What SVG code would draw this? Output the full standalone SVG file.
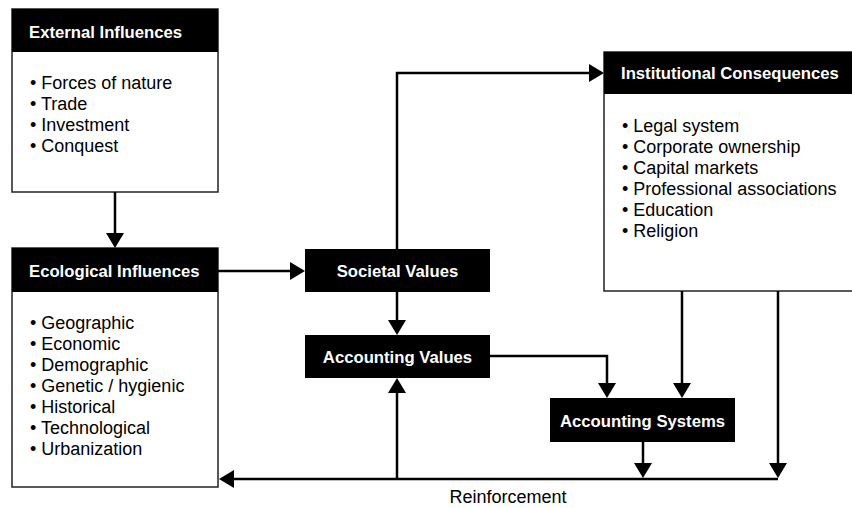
<svg xmlns="http://www.w3.org/2000/svg" width="852" height="508" viewBox="0 0 852 508">
<style>
.body{fill:#fff;stroke:#222;stroke-width:1.5}
.hdr{fill:#000}
.title{font-family:"Liberation Sans",Arial,sans-serif;font-weight:bold;font-size:16.7px;fill:#fff}
.item{font-family:"Liberation Sans",Arial,sans-serif;font-size:18px;fill:#000}
.lbl{font-family:"Liberation Sans",Arial,sans-serif;font-size:18px;fill:#000}
.c{text-anchor:middle}
.conn{fill:none;stroke:#000;stroke-width:2.5;marker-end:url(#ah)}
.plain{fill:none;stroke:#000;stroke-width:2.5}
</style>
<defs>
<marker id="ah" markerUnits="userSpaceOnUse" markerWidth="16" markerHeight="18" refX="12" refY="9" orient="auto">
<path d="M0,0 L15,9 L0,18 z" fill="#000"/>
</marker>
</defs>
<rect width="852" height="508" fill="#fff"/>

<g id="external">
<rect class="body" x="12" y="9" width="206" height="183"/>
<rect class="hdr" x="12" y="9" width="206" height="43"/>
<text class="title" x="29" y="38">External Influences</text>
<text class="item" x="30" y="89">• Forces of nature</text>
<text class="item" x="30" y="110">• Trade</text>
<text class="item" x="30" y="131">• Investment</text>
<text class="item" x="30" y="152">• Conquest</text>
</g>

<g id="ecological">
<rect class="body" x="12" y="248" width="206" height="239"/>
<rect class="hdr" x="12" y="248" width="206" height="44"/>
<text class="title" x="29" y="277">Ecological Influences</text>
<text class="item" x="30" y="329">• Geographic</text>
<text class="item" x="30" y="350">• Economic</text>
<text class="item" x="30" y="371">• Demographic</text>
<text class="item" x="30" y="392">• Genetic / hygienic</text>
<text class="item" x="30" y="413">• Historical</text>
<text class="item" x="30" y="434">• Technological</text>
<text class="item" x="30" y="455">• Urbanization</text>
</g>

<g id="institutional">
<rect class="body" x="604" y="52" width="252" height="239"/>
<rect class="hdr" x="604" y="52" width="252" height="42"/>
<text class="title" x="621" y="79">Institutional Consequences</text>
<text class="item" x="622" y="132">• Legal system</text>
<text class="item" x="622" y="153">• Corporate ownership</text>
<text class="item" x="622" y="174">• Capital markets</text>
<text class="item" x="622" y="195">• Professional associations</text>
<text class="item" x="622" y="216">• Education</text>
<text class="item" x="622" y="237">• Religion</text>
</g>

<g id="societal">
<rect class="hdr" x="305" y="249" width="185" height="43"/>
<text class="title c" x="397.5" y="277">Societal Values</text>
</g>

<g id="accvalues">
<rect class="hdr" x="305" y="335" width="185" height="43"/>
<text class="title c" x="397.5" y="363">Accounting Values</text>
</g>

<g id="accsystems">
<rect class="hdr" x="550" y="398" width="185" height="44"/>
<text class="title c" x="642.5" y="427">Accounting Systems</text>
</g>

<g id="connectors">
<path class="conn" d="M115,192 V245"/>
<path class="conn" d="M218,271 H302"/>
<path class="conn" d="M397,249 V73 H601"/>
<path class="conn" d="M397,292 V332"/>
<path class="conn" d="M490,356 H607 V395"/>
<path class="conn" d="M682,291 V395"/>
<path class="conn" d="M643,442 V475"/>
<path class="conn" d="M778,291 V475"/>
<path class="conn" d="M778,479 H222"/>
<path class="conn" d="M397,479 V381"/>
<text class="lbl c" x="508" y="503">Reinforcement</text>
</g>
</svg>
